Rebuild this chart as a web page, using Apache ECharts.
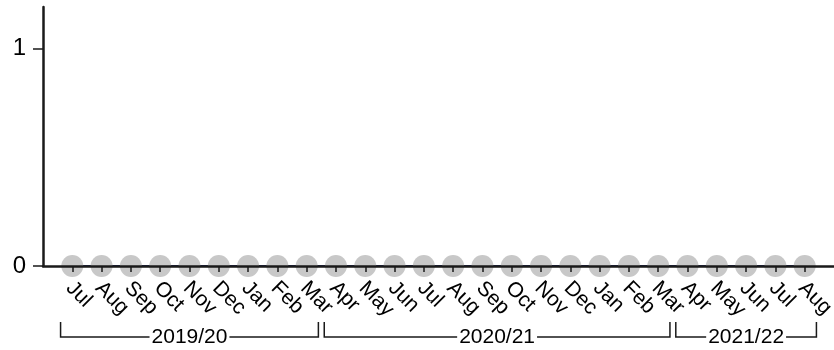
<!DOCTYPE html>
<html>
<head>
<meta charset="utf-8">
<script src="https://cdn.jsdelivr.net/npm/echarts@6/dist/echarts.min.js"></script>
<style>
html,body{margin:0;padding:0;background:#fff;}
#chart{width:834px;height:350px;}
</style>
</head>
<body>
<div id="chart"></div>
<script>
const months = ['Jul','Aug','Sep','Oct','Nov','Dec','Jan','Feb','Mar','Apr','May','Jun','Jul','Aug','Sep','Oct','Nov','Dec','Jan','Feb','Mar','Apr','May','Jun','Jul','Aug'];
const values = [0,0,0,0,0,0,0,0,0,0,0,0,0,0,0,0,0,0,0,0,0,0,0,0,0,0];
const groupLabels = ['2019/20','2020/21','2021/22'];
const groupStart = [0, 9, 21];
const groupEnd = [8, 20, 25];
const yTicks = [0, 1];

const FONT = '"Liberation Sans", Arial, sans-serif';
const chart = echarts.init(document.getElementById('chart'), null, {renderer:'canvas'});
const idx = months.map((m,i)=>i);
const evenIdx = idx.filter(i=>i%2===0);
const oddIdx = idx.filter(i=>i%2===1);
function labelAxis(vals){
  return {
    type:'value', min:-0.9, max:months.length+0.1, position:'bottom', z:5,
    axisLine:{show:false,onZero:false}, axisTick:{show:false}, splitLine:{show:false},
    axisLabel:{customValues:vals,rotate:-45,margin:19,fontSize:21,color:'#000',fontFamily:FONT,
      hideOverlap:false, showMinLabel:true, showMaxLabel:true,
      formatter:function(v){return months[Math.round(v)]||'';}}
  };
}
chart.setOption({
  animation:false,
  grid:{left:43,right:0,top:7,bottom:84,containLabel:false,outerBoundsMode:'none'},
  xAxis:[{
    type:'value', min:-1, max:months.length, z:5,
    axisLine:{show:true,onZero:false,lineStyle:{color:'#1a1a1a',width:2.5}},
    axisTick:{show:true,customValues:idx,length:6,lineStyle:{color:'#1a1a1a',width:1.5}},
    splitLine:{show:false},
    axisLabel:{show:false}
  }, labelAxis(evenIdx), labelAxis(oddIdx)],
  yAxis:{
    type:'value', min:0, max:1.19, z:5,
    axisLine:{show:true,onZero:false,lineStyle:{color:'#1a1a1a',width:2.5}},
    axisTick:{show:true,customValues:yTicks,length:10,lineStyle:{color:'#1a1a1a',width:1.5}},
    splitLine:{show:false},
    axisLabel:{customValues:yTicks,margin:17,fontSize:24,color:'#000',fontFamily:FONT}
  },
  series:[{
    type:'line',
    xAxisIndex:0,
    data:values.map((v,i)=>[i,v]),
    symbol:'circle', symbolSize:22,
    lineStyle:{color:'#1c2a6b',width:2},
    itemStyle:{color:'#c8c8c8'},
    z:2
  }]
});

const gs = [];
const yTop = 322, yLine = 337;
for (let g=0; g<groupLabels.length; g++){
  const x0 = chart.convertToPixel({xAxisIndex:0,yAxisIndex:0}, [groupStart[g]-0.4, 0])[0];
  const x1 = chart.convertToPixel({xAxisIndex:0,yAxisIndex:0}, [groupEnd[g]+0.4, 0])[0];
  gs.push({type:'polyline',shape:{points:[[x0,yTop],[x0,yLine],[x1,yLine],[x1,yTop]]},
    style:{stroke:'#1a1a1a',lineWidth:1.5,fill:null},z:10});
  gs.push({type:'text',x:(x0+x1)/2,y:yLine,z:11,
    style:{text:groupLabels[g],fontSize:21,fontFamily:FONT,fill:'#000',align:'center',verticalAlign:'middle',
      backgroundColor:'#fff',padding:[0,2]}});
}
chart.setOption({graphic:gs});
</script>
</body>
</html>
